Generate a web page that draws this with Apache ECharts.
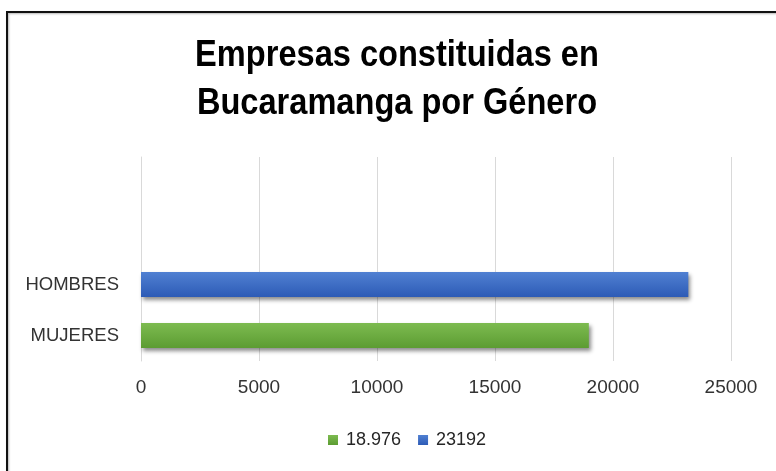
<!DOCTYPE html>
<html>
<head>
<meta charset="utf-8">
<script src="https://cdn.jsdelivr.net/npm/echarts@6/dist/echarts.min.js"></script>
<style>html,body{margin:0;padding:0;background:#fff}#c{width:776px;height:471px}</style>
</head>
<body>
<div id="c"></div>
<script>
const titleLines = ['Empresas constituidas en', 'Bucaramanga por Género'];
const categories = ['MUJERES', 'HOMBRES', ' ', '  '];
const seriesNames = ['18.976', '23192'];
const mujeresValues = [18976, '-', '-', '-'];
const hombresValues = ['-', 23192, '-', '-'];
const xTicks = { min: 0, max: 25000, interval: 5000 };

const FONT = "'Liberation Sans', Arial, sans-serif";
const chart = echarts.init(document.getElementById('c'), null, { renderer: 'canvas' });

function grad(top, bottom) {
  return new echarts.graphic.LinearGradient(0, 0, 0, 1, [
    { offset: 0, color: top }, { offset: 1, color: bottom }
  ]);
}
const shadow = { shadowColor: 'rgba(0,0,0,0.45)', shadowBlur: 4, shadowOffsetX: 2, shadowOffsetY: 3 };

chart.setOption({
  backgroundColor: '#fff',
  animation: false,
  color: ['#6aab3e', '#3b6cc5'],
  graphic: [
    {
      type: 'rect', z: 100, silent: true,
      shape: { x: 7, y: 12, width: 900, height: 600 },
      style: { fill: 'none', stroke: '#111', lineWidth: 2, shadowColor: 'rgba(0,0,0,0.3)', shadowBlur: 2, shadowOffsetX: 1, shadowOffsetY: 1 }
    },
    {
      type: 'text', z: 100, silent: true,
      x: 397, y: 32, scaleX: 0.905, originX: 0,
      style: {
        text: titleLines.join('\n'), align: 'center', verticalAlign: 'top',
        font: "bold 36px 'Liberation Sans', Arial, sans-serif", lineHeight: 48, fill: '#000'
      }
    }
  ],
  legend: {
    data: seriesNames,
    left: 323, top: 426,
    icon: 'rect', itemWidth: 10, itemHeight: 10, itemGap: 17,
    textStyle: { fontFamily: FONT, fontSize: 18, color: '#262626', padding: [0, 0, 0, 3] }
  },
  grid: { left: 141, right: 45, top: 157, bottom: 110, containLabel: false },
  xAxis: {
    type: 'value', min: xTicks.min, max: xTicks.max, interval: xTicks.interval,
    axisLine: { show: false }, axisTick: { show: false },
    splitLine: { show: true, lineStyle: { color: '#d9d9d9', width: 1 } },
    axisLabel: { fontFamily: FONT, fontSize: 19, color: '#333', margin: 17, formatter: v => String(v) }
  },
  yAxis: {
    type: 'category', data: categories,
    axisLine: { show: true, lineStyle: { color: '#d9d9d9', width: 1 } },
    axisTick: { show: false },
    axisLabel: { fontFamily: FONT, fontSize: 18.5, color: '#333', margin: 22 }
  },
  series: [
    {
      name: seriesNames[0], type: 'bar', stack: 'g', barWidth: 25, data: mujeresValues,
      itemStyle: Object.assign({ color: grad('#7dbb50', '#5c9c32') }, shadow)
    },
    {
      name: seriesNames[1], type: 'bar', stack: 'g', barWidth: 25, data: hombresValues,
      itemStyle: Object.assign({ color: grad('#5080d2', '#2d5bb6') }, shadow)
    }
  ]
});
</script>
</body>
</html>
